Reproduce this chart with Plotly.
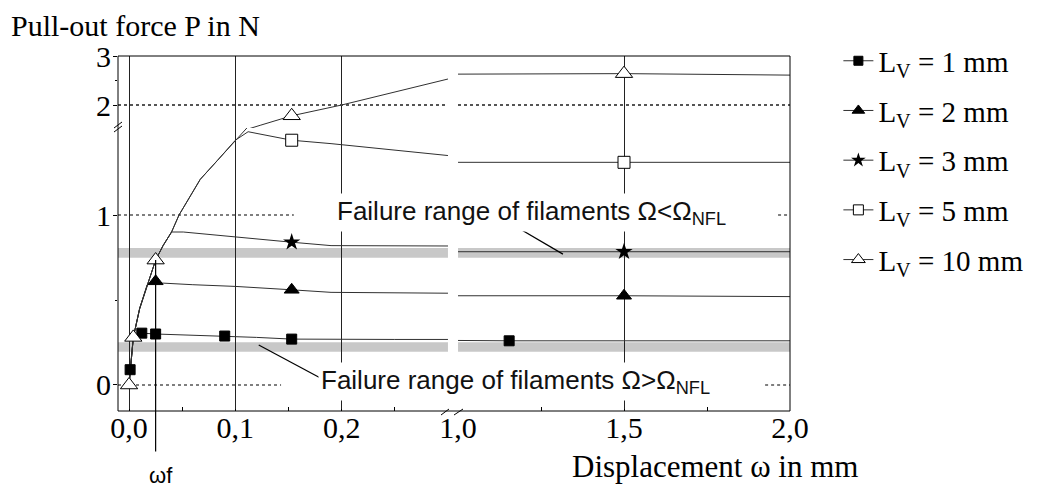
import plotly.graph_objects as go

# ---------------- data ----------------
# Displacement w in mm / pull-out force P in N
L1_x = [0.0, 0.001, 0.004, 0.012, 0.025, 0.05, 0.09, 0.12, 0.153, 0.19, 0.25, 0.3, 1.0, 1.154, 1.5, 2.0]
L1_y = [0.0, 0.09, 0.28, 0.305, 0.30, 0.295, 0.288, 0.28, 0.27, 0.268, 0.268, 0.268, 0.262, 0.26, 0.26, 0.26]
L1_mx = [0.001, 0.012, 0.025, 0.09, 0.153, 1.154]
L1_my = [0.09, 0.305, 0.30, 0.288, 0.27, 0.26]

L2_x = [0.0, 0.004, 0.01, 0.017, 0.025, 0.03, 0.06, 0.1, 0.153, 0.19, 0.3, 1.0, 1.5, 2.0]
L2_y = [0.0, 0.28, 0.45, 0.59, 0.61, 0.60, 0.59, 0.58, 0.56, 0.545, 0.54, 0.525, 0.525, 0.52]
L2_mx = [0.025, 0.153, 1.5]
L2_my = [0.61, 0.56, 0.525]

L3_x = [0.0, 0.004, 0.01, 0.018, 0.025, 0.032, 0.04, 0.051, 0.1, 0.153, 0.19, 0.3, 1.0, 1.5, 2.0]
L3_y = [0.0, 0.28, 0.45, 0.6, 0.735, 0.82, 0.9, 0.9, 0.87, 0.84, 0.82, 0.806, 0.784, 0.784, 0.784]
L3_mx = [0.153, 1.5]
L3_my = [0.84, 0.784]

L5_x = [0.0, 0.004, 0.01, 0.018, 0.025, 0.032, 0.04, 0.047, 0.067, 0.083, 0.1, 0.112, 0.153, 0.19, 0.3, 1.0, 1.5, 2.0]
L5_y = [0.0, 0.28, 0.45, 0.6, 0.735, 0.82, 0.9, 1.0, 1.21, 1.32, 1.44, 1.49, 1.44, 1.42, 1.35, 1.31, 1.31, 1.31]
L5_mx = [0.153, 1.5]
L5_my = [1.44, 1.31]

L10_x = [0.0, 0.004, 0.01, 0.018, 0.025, 0.032, 0.04, 0.047, 0.067, 0.083, 0.1, 0.112, 0.124, 0.153, 0.2, 0.3, 1.0, 1.5, 2.0]
L10_y = [0.0, 0.28, 0.45, 0.6, 0.735, 0.82, 0.9, 1.0, 1.21, 1.32, 1.44, 1.52, 1.59, 1.78, 2.0, 2.53, 2.63, 2.64, 2.61]
L10_mx = [0.0, 0.004, 0.025, 0.153, 1.5]
L10_my = [0.0, 0.28, 0.735, 1.78, 2.64]

series_names = ["L<sub>V</sub> = 1 mm", "L<sub>V</sub> = 2 mm", "L<sub>V</sub> = 3 mm",
                "L<sub>V</sub> = 5 mm", "L<sub>V</sub> = 10 mm"]

# failure ranges of the filaments (grey bands), in N
band_low = [0.195, 0.252]    # Omega > Omega_NFL
band_high = [0.748, 0.806]   # Omega < Omega_NFL

omega_f = 0.025              # displacement w_f
omega_f_force = 0.735

x_left_ticks = [0.0, 0.1, 0.2]
x_left_labels = ["0,0", "0,1", "0,2"]
x_right_ticks = [1.0, 1.5, 2.0]
x_right_labels = ["1,0", "1,5", "2,0"]
y_low_ticks = [0, 1]
y_up_ticks = [2, 3]

# ---------------- styling ----------------
XL_RANGE = [-0.0104, 0.3]
XR_RANGE = [1.0, 2.0]
YL_RANGE = [-0.153, 1.512]
YU_RANGE = [1.531, 3.0]
RANGES = {"x": XL_RANGE, "x2": XR_RANGE, "y": YL_RANGE, "y2": YU_RANGE}

LINE_COL = "#303030"
SERIF = "Liberation Serif"
SANS = "Liberation Sans"

marker_styles = [
    dict(symbol="square", size=10, color="black", line=dict(color="black", width=1)),
    dict(symbol="triangle-up", size=13, color="black", line=dict(color="black", width=1)),
    dict(symbol="star", size=13, color="black", line=dict(color="black", width=0)),
    dict(symbol="square", size=12, color="white", line=dict(color="black", width=1)),
    dict(symbol="triangle-up", size=15, color="white", line=dict(color="black", width=1)),
]
legend_marker_styles = [
    dict(symbol="square", size=9, color="black", line=dict(color="black", width=1)),
    dict(symbol="triangle-up", size=11, color="black", line=dict(color="black", width=1)),
    dict(symbol="star", size=11, color="black", line=dict(color="black", width=0)),
    dict(symbol="square", size=10, color="white", line=dict(color="black", width=1)),
    dict(symbol="triangle-up", size=12, color="white", line=dict(color="black", width=1)),
]

series = [
    (L1_x, L1_y, L1_mx, L1_my),
    (L2_x, L2_y, L2_mx, L2_my),
    (L3_x, L3_y, L3_mx, L3_my),
    (L5_x, L5_y, L5_mx, L5_my),
    (L10_x, L10_y, L10_mx, L10_my),
]

panels = [("x", "y"), ("x", "y2"), ("x2", "y"), ("x2", "y2")]

fig = go.Figure()

# lines (drawn in each panel of the broken axes; each panel clips to its own range)
for (sx, sy, mx, my) in series:
    for xa, ya in panels:
        fig.add_trace(go.Scatter(x=sx, y=sy, mode="lines", xaxis=xa, yaxis=ya,
                                 line=dict(color=LINE_COL, width=1),
                                 showlegend=False, hoverinfo="skip"))
# markers: each point only in the panel whose ranges contain it
for i, (sx, sy, mx, my) in enumerate(series):
    for xa, ya in panels:
        xr, yr = RANGES[xa], RANGES[ya]
        pts = [(a, b) for a, b in zip(mx, my)
               if xr[0] <= a <= xr[1] and yr[0] <= b <= yr[1]]
        if not pts:
            continue
        fig.add_trace(go.Scatter(x=[p[0] for p in pts], y=[p[1] for p in pts],
                                 mode="markers", xaxis=xa, yaxis=ya,
                                 marker=marker_styles[i], showlegend=False,
                                 hoverinfo="skip"))
# legend entries
for i, name in enumerate(series_names):
    fig.add_trace(go.Scatter(x=[None], y=[None], mode="lines+markers", name=name,
                             legendgroup="g%d" % i,
                             line=dict(color=LINE_COL, width=1),
                             marker=legend_marker_styles[i]))

tickfont = dict(family=SERIF, size=30, color="black")
common_x = dict(showgrid=True, gridcolor="#222222", gridwidth=1, zeroline=False,
                showline=False, ticks="inside", ticklen=2, tickcolor="black",
                tickfont=tickfont, tickmode="array", anchor="y",
                ticklabelstandoff=-4)
common_y = dict(zeroline=False, showline=False, ticks="outside", ticklen=4,
                tickcolor="black", tickfont=tickfont, tickmode="array", anchor="x",
                ticklabelstandoff=-4)

# the page body adds an 8 px offset, so the figure is made 8 px smaller
fig.update_layout(
    width=1043, height=484,
    margin=dict(l=110, r=261, t=48, b=81),
    paper_bgcolor="white", plot_bgcolor="white",
    xaxis=dict(domain=[0, 0.491], range=XL_RANGE, tickvals=x_left_ticks,
               ticktext=x_left_labels,
               minor=dict(tickvals=[0.05, 0.15, 0.25], ticks="inside", ticklen=4,
                          tickcolor="black", showgrid=False),
               **common_x),
    xaxis2=dict(domain=[0.506, 1], range=XR_RANGE, tickvals=x_right_ticks,
                ticktext=x_right_labels,
                minor=dict(tickvals=[1.25, 1.75], ticks="inside", ticklen=4,
                           tickcolor="black", showgrid=False),
                **common_x),
    yaxis=dict(domain=[0, 0.7972], range=YL_RANGE, tickvals=y_low_ticks,
               ticktext=[str(v) for v in y_low_ticks], showgrid=False,
               minor=dict(tickvals=[0.5], ticks="outside", ticklen=2,
                          tickcolor="black", showgrid=False),
               **common_y),
    yaxis2=dict(domain=[0.7972, 1], range=YU_RANGE, tickvals=y_up_ticks,
                ticktext=[str(v) for v in y_up_ticks], showgrid=True,
                gridcolor="#555555", gridwidth=1.5, griddash="dot",
                minor=dict(tickvals=[2.5], ticks="outside", ticklen=2,
                           tickcolor="black", showgrid=False),
                **common_y),
    legend=dict(x=1.072, y=1.058, xanchor="left", yanchor="top",
                font=dict(family=SERIF, size=29, color="black"),
                tracegroupgap=9, bgcolor="rgba(0,0,0,0)", maxheight=470),
    showlegend=True,
)

shapes = []
# grey failure bands
for xr, rng in (("x", XL_RANGE), ("x2", XR_RANGE)):
    for band in (band_low, band_high):
        shapes.append(dict(type="rect", xref=xr, yref="y", x0=rng[0], x1=rng[1],
                           y0=band[0], y1=band[1], fillcolor="#c8c8c8",
                           line=dict(width=0), layer="below"))
# partial dotted grid lines at 0 and 1
dot = dict(color="#555555", width=1.5, dash="dot")
shapes += [
    dict(type="line", xref="x", yref="y", x0=XL_RANGE[0], x1=0.143, y0=0, y1=0, line=dot, layer="below"),
    dict(type="line", xref="x", yref="y", x0=XL_RANGE[0], x1=0.155, y0=1, y1=1, line=dot, layer="below"),
    dict(type="line", xref="x2", yref="y", x0=1.925, x1=2.0, y0=0, y1=0, line=dot, layer="below"),
    dict(type="line", xref="x2", yref="y", x0=1.964, x1=2.0, y0=1, y1=1, line=dot, layer="below"),
]
# leader lines of the labels
shapes += [
    dict(type="line", xref="x2", yref="y", x0=1.166, y0=0.941, x1=1.316, y1=0.77,
         line=dict(color="black", width=1.2)),
    dict(type="line", xref="x", yref="y", x0=0.122, y0=0.235, x1=0.180, y1=0.041,
         line=dict(color="black", width=1.2)),
]
# frame
shapes.append(dict(type="rect", xref="paper", yref="paper", x0=0, x1=1, y0=0, y1=1,
                   line=dict(color="black", width=1)))
# axis break marks
W, H = 672.0, 355.0
def px(xp, yp):
    return (xp - 118) / W, (411 - yp) / H
for (a, b) in [((114, 132), (122, 126)), ((114, 128), (122, 122)),
               ((441, 415), (449, 409)), ((454, 415), (463, 409))]:
    x0, y0 = px(*a)
    x1, y1 = px(*b)
    shapes.append(dict(type="line", xref="paper", yref="paper", x0=x0, y0=y0,
                       x1=x1, y1=y1, line=dict(color="black", width=1)))
fig.update_layout(shapes=shapes)

ann = [
    dict(text="Pull-out force P in N", xref="paper", yref="paper",
         x=(8.5 - 118) / W, y=(411 - 26) / H, xanchor="left", yanchor="middle",
         showarrow=False, font=dict(family=SERIF, size=30, color="black")),
    dict(text="Displacement ω in mm", xref="paper", yref="paper",
         x=(715 - 118) / W, y=(411 - 466) / H, xanchor="center", yanchor="middle",
         showarrow=False, font=dict(family=SERIF, size=31, color="black")),
    dict(text="Failure range of filaments Ω<Ω<sub>NFL</sub>", xref="paper", yref="paper",
         x=(334 - 118) / W, y=(411 - 212) / H, xanchor="left", yanchor="middle",
         showarrow=False, bgcolor="white", borderpad=2,
         font=dict(family=SANS, size=26, color="#111111")),
    dict(text="Failure range of filaments Ω>Ω<sub>NFL</sub>", xref="paper", yref="paper",
         x=(318 - 118) / W, y=(411 - 381) / H, xanchor="left", yanchor="middle",
         showarrow=False, bgcolor="white", borderpad=2,
         font=dict(family=SANS, size=26, color="#111111")),
    # vertical line marking w_f, running below the axis
    dict(text="", xref="x", yref="y", x=omega_f, y=omega_f_force,
         ax=0, ay=193, showarrow=True, arrowhead=0, arrowwidth=1.2,
         arrowcolor="black"),
    dict(text="ωf", xref="x", yref="paper", x=omega_f, y=(411 - 475) / H,
         xshift=5, xanchor="center", yanchor="middle", showarrow=False,
         font=dict(family=SANS, size=22, color="black")),
]
fig.update_layout(annotations=ann)

fig.write_html("out.html")
